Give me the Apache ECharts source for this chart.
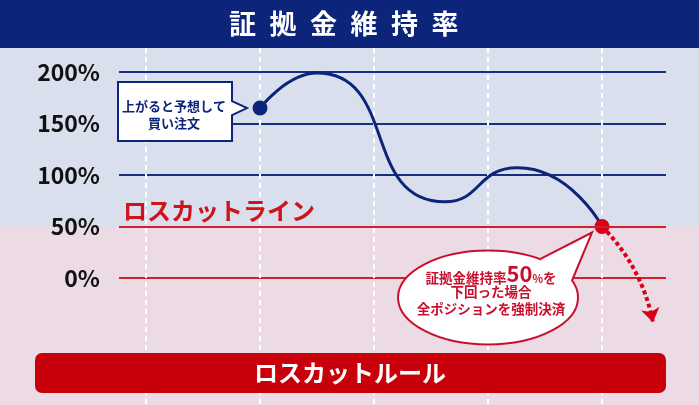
<!DOCTYPE html>
<html><head><meta charset="utf-8">
<script src="https://cdn.jsdelivr.net/npm/echarts@6/dist/echarts.min.js"></script>
<style>html,body{margin:0;padding:0;background:#ecdbe4}#c{width:699px;height:405px}</style>
</head><body><div id="c"></div>
<script>
// ---- data ----
const titleText = '証拠金維持率';
const lossCutLineLabel = 'ロスカットライン';
const lossCutRuleLabel = 'ロスカットルール';
const buyNoteLines = ['上がると予想して', '買い注文'];
const bubbleHead = ['証拠金維持率', '50', '%', 'を'];
const bubbleLines = ['下回った場合', '全ポジションを強制決済'];
const yTicks = [0, 50, 100, 150, 200];
const timeSteps = [0, 1, 2, 3, 4];
const curveX = [1, 1.5, 2.62, 3.26, 4];
const curveY = [165, 199, 74, 107, 50];
const entryPoint = [1, 165];
const lossCutLevel = 50;
const lossCutPoint = [4, 50];
const dropEnd = [4.447, -43];

// ---- styles ----
const F = '"Noto Sans CJK JP", "Noto Sans", sans-serif';
const NAVY = '#0c2479';
const GRIDNAVY = '#14307f';
const RED = '#d2202a';
const DOTRED = '#d9001b';
const BAR = '#c8000b';
const BLUEBG = '#d9dfec';
const PINKBG = '#ecdbe4';
const X_MIN = -0.237, X_MAX = 4.561;

const chart = echarts.init(document.getElementById('c'), null, {renderer: 'canvas', width: 699, height: 405});
chart.setOption({
  animation: false,
  backgroundColor: PINKBG,
  title: {
    text: titleText.split('').join('\u2002'), left: 229, top: 10, padding: 0, z: 8,
    textStyle: {color: '#fff', fontSize: 27, fontWeight: 'bold', fontFamily: F}
  },
  grid: [
    {left: 146, right: 97, top: 48, bottom: 0},
    {left: 119, right: 33, top: 72, height: 206}
  ],
  xAxis: [
    {gridIndex: 0, type: 'value', min: timeSteps[0], max: timeSteps[timeSteps.length - 1], interval: 1, z: 1,
     axisLine: {show: false}, axisTick: {show: false}, axisLabel: {show: false},
     splitLine: {show: true, lineStyle: {color: '#ffffff', width: 2, type: [5, 4]}}},
    {gridIndex: 1, type: 'value', min: X_MIN, max: X_MAX, show: false, splitLine: {show: false}}
  ],
  yAxis: [
    {gridIndex: 0, type: 'value', show: false, splitLine: {show: false}},
    {gridIndex: 1, type: 'value', min: yTicks[0], max: yTicks[yTicks.length - 1], interval: 50, z: 0,
     axisLine: {show: false}, axisTick: {show: false},
     axisLabel: {formatter: v => v + '%', color: '#111111', fontSize: 23, fontWeight: 'bold', fontFamily: F, margin: 19},
     splitLine: {show: true, lineStyle: {color: [RED, RED, GRIDNAVY, GRIDNAVY, GRIDNAVY], width: 2}}}
  ],
  series: [
    {type: 'line', name: titleText, xAxisIndex: 1, yAxisIndex: 1, z: 3, clip: false,
     data: curveX.map((x, i) => [x, curveY[i]]), smooth: 0.6, symbol: 'none',
     lineStyle: {color: NAVY, width: 3},
     markLine: {silent: true, symbol: 'none', data: [{yAxis: lossCutLevel}],
       lineStyle: {color: RED, width: 2, type: 'solid'},
       label: {show: true, position: 'insideStartTop', formatter: lossCutLineLabel, distance: 4,
               color: '#d0121b', fontSize: 24, fontWeight: 'bold', fontFamily: F}}},
    {type: 'lines', coordinateSystem: 'cartesian2d', xAxisIndex: 1, yAxisIndex: 1, z: 3, clip: false,
     polyline: false, symbol: ['none', 'arrow'], symbolSize: [0, 14],
     lineStyle: {color: DOTRED, width: 4, type: [4, 3], curveness: 0.15, opacity: 1},
     data: [{coords: [lossCutPoint, dropEnd]}]},
    {type: 'scatter', xAxisIndex: 1, yAxisIndex: 1, z: 4, symbolSize: 15,
     data: [{value: entryPoint, itemStyle: {color: NAVY, opacity: 1}}, {value: lossCutPoint, itemStyle: {color: DOTRED, opacity: 1}}]}
  ]
});

const fp = {xAxisIndex: 1, yAxisIndex: 1};
const pE = chart.convertToPixel(fp, entryPoint);
const pL = chart.convertToPixel(fp, lossCutPoint);
const y50 = chart.convertToPixel(fp, [0, lossCutLevel])[1];

function txt(x, y, text, size, color, z, extra) {
  return Object.assign({type: 'text', x: x, y: y, z: z, silent: true,
    style: Object.assign({text: text, fill: color, fontSize: size, fontWeight: 'bold', fontFamily: F,
      align: 'center', verticalAlign: 'middle', textAlign: 'center', textVerticalAlign: 'middle'}, extra || {})});
}

// left callout
const bR = pE[0] - 28, bL = 118, bT = pE[1] - 26, bB = pE[1] + 33;
const callout = [[bL, bT], [bR, bT], [bR, pE[1] - 7], [pE[0] - 13, pE[1]], [bR, pE[1] + 7], [bR, bB], [bL, bB]];

// bubble
const cx = pL[0] - 114, cy = pL[1] + 71, rx = 90, ry = 47;
const tip = [pL[0] - 10, pL[1] + 6];
const tl = [cx + 52, cy - 38.4], tr = [cx + 84, cy - 17];
const tm = [(tl[0] + tr[0]) / 2 - 4, (tl[1] + tr[1]) / 2 + 4];

chart.setOption({
  graphic: [
    {type: 'rect', z: -10, silent: true, shape: {x: 0, y: 48, width: 699, height: y50 - 48}, style: {fill: BLUEBG}},
    {type: 'rect', z: -5, silent: true, shape: {x: 0, y: 0, width: 699, height: 48}, style: {fill: NAVY}},
    {type: 'polygon', z: 10, silent: true, shape: {points: callout}, style: {fill: '#fff', stroke: NAVY, lineWidth: 2}},
    txt(174, pE[1] - 2, buyNoteLines[0], 13, NAVY, 11),
    txt(174, pE[1] + 15, buyNoteLines[1], 13, NAVY, 11),
    {type: 'ellipse', z: 10, silent: true, shape: {cx: cx, cy: cy, rx: rx, ry: ry}, style: {fill: '#fff', stroke: '#c8102e', lineWidth: 2}},
    {type: 'polygon', z: 11, silent: true, shape: {points: [tip, tl, tm, tr]}, style: {fill: '#fff'}},
    {type: 'polyline', z: 11, silent: true, shape: {points: [tl, tip, tr]}, style: {stroke: '#c8102e', lineWidth: 2, fill: null}},
    txt(cx + 3, pL[1] + 47, '{a|' + bubbleHead[0] + '}{b|' + bubbleHead[1] + '}{c|' + bubbleHead[2] + '}{a|' + bubbleHead[3] + '}', 13.5, '#c8102e', 12,
      {rich: {a: {fontSize: 13.5, fontWeight: 'bold', fontFamily: F, fill: '#c8102e', verticalAlign: 'bottom'},
              b: {fontSize: 22, fontWeight: 'bold', fontFamily: F, fill: '#c8102e', verticalAlign: 'bottom'},
              c: {fontSize: 11, fontWeight: 'bold', fontFamily: F, fill: '#c8102e', verticalAlign: 'bottom'}}}),
    txt(cx + 3, pL[1] + 65, bubbleLines[0], 13.5, '#c8102e', 12),
    txt(cx + 3, pL[1] + 82, bubbleLines[1], 13.5, '#c8102e', 12),
    {type: 'rect', z: 10, silent: true, shape: {x: 35, y: 353, width: 631, height: 40, r: 7}, style: {fill: BAR}},
    txt(350, 373, lossCutRuleLabel, 24, '#fff', 11)
  ]
});
</script></body></html>
